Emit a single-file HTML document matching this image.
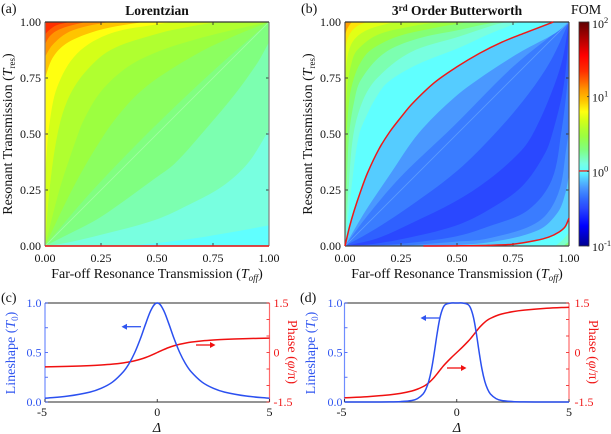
<!DOCTYPE html>
<html lang="en">
<head>
<meta charset="utf-8">
<title>Lorentzian and Butterworth FOM maps</title>
<style>
html,body{margin:0;padding:0;background:#fff;width:611px;height:434px;overflow:hidden}
svg{display:block}
text{font-family:"Liberation Serif",serif;fill:#111}
.tick{font-size:12px}
.lab{font-size:14px}
.blue{fill:#2f55f0}
.red{fill:#f01818}
</style>
</head>
<body>
<svg id="fig" width="611" height="434" viewBox="0 0 611 434" xmlns="http://www.w3.org/2000/svg">
<defs>
<clipPath id="clip-a"><rect x="45" y="22" width="224" height="224"/></clipPath>
<clipPath id="clip-b"><rect x="345" y="22" width="224" height="224"/></clipPath>
<linearGradient id="cbar-grad" x1="0" y1="1" x2="0" y2="0"></linearGradient>
</defs>
<g id="layer-a" clip-path="url(#clip-a)"></g>
<g id="layer-b" clip-path="url(#clip-b)"></g>
<g id="axes"></g>
<g id="lines"></g>

<text x="1" y="13" class="lab">(a)</text>
<text x="301" y="13" class="lab">(b)</text>
<text x="1" y="302" class="lab">(c)</text>
<text x="300" y="302" class="lab">(d)</text>

<text x="157" y="15" text-anchor="middle" font-size="13.5" font-weight="bold">Lorentzian</text>
<text x="457" y="15" text-anchor="middle" font-size="13.5" font-weight="bold">3<tspan dy="-4" font-size="9">rd</tspan><tspan dy="4"> Order Butterworth</tspan></text>
<text x="586" y="14" text-anchor="middle" class="lab">FOM</text>

<text x="157" y="278" text-anchor="middle" class="lab">Far-off Resonance Transmission (<tspan font-style="italic">T</tspan><tspan font-size="9" dy="3" font-style="italic">off</tspan><tspan dy="-3">)</tspan></text>
<text x="457" y="278" text-anchor="middle" class="lab">Far-off Resonance Transmission (<tspan font-style="italic">T</tspan><tspan font-size="9" dy="3" font-style="italic">off</tspan><tspan dy="-3">)</tspan></text>
<text transform="translate(12,134) rotate(-90)" text-anchor="middle" class="lab">Resonant Transmission (<tspan font-style="italic">T</tspan><tspan font-size="9" dy="3">res</tspan><tspan dy="-3">)</tspan></text>
<text transform="translate(312,134) rotate(-90)" text-anchor="middle" class="lab">Resonant Transmission (<tspan font-style="italic">T</tspan><tspan font-size="9" dy="3">res</tspan><tspan dy="-3">)</tspan></text>

<text transform="translate(15,353) rotate(-90)" text-anchor="middle" class="lab blue">Lineshape (<tspan font-style="italic">T</tspan><tspan font-size="9" dy="3">0</tspan><tspan dy="-3">)</tspan></text>
<text transform="translate(315,353) rotate(-90)" text-anchor="middle" class="lab blue">Lineshape (<tspan font-style="italic">T</tspan><tspan font-size="9" dy="3">0</tspan><tspan dy="-3">)</tspan></text>
<text transform="translate(288,352) rotate(90)" text-anchor="middle" class="lab red">Phase (<tspan font-style="italic">φ</tspan>/π)</text>
<text transform="translate(589,352) rotate(90)" text-anchor="middle" class="lab red">Phase (<tspan font-style="italic">φ</tspan>/π)</text>

<text x="157" y="432" text-anchor="middle" class="lab" font-style="italic">Δ</text>
<text x="457" y="432" text-anchor="middle" class="lab" font-style="italic">Δ</text>

<g stroke="#2f55f0" fill="#2f55f0">
<line x1="141" y1="326.7" x2="125" y2="326.7" stroke-width="1.3"/><polygon points="121.5,326.7 127,323.7 127,329.7" stroke="none"/>
</g>
<g stroke="#f01010" fill="#f01010">
<line x1="196" y1="345" x2="212" y2="345" stroke-width="1.3"/><polygon points="215.5,345 210,342 210,348" stroke="none"/>
</g>
<g stroke="#2f55f0" fill="#2f55f0">
<line x1="440" y1="318" x2="424" y2="318" stroke-width="1.3"/><polygon points="420.5,318 426,315 426,321" stroke="none"/>
</g>
<g stroke="#f01010" fill="#f01010">
<line x1="447" y1="368" x2="463" y2="368" stroke-width="1.3"/><polygon points="466.5,368 461,365 461,371" stroke="none"/>
</g>
</svg>

<script>
// ---------- Chart data ----------
// Contour boundaries: [T_off, T_res] pairs.
const colormapLogFom = [-1, -0.73, -0.49, -0.40, -0.31, -0.22, -0.10, 0.005, 0.11, 0.20, 0.29, 0.38, 0.47, 0.56, 0.68, 0.80, 0.95, 1.10, 1.22, 1.34, 1.55, 2];
const colormapColors = ['#000090', '#0000ff', '#2a48ff', '#2f60ff', '#3a7cff', '#4a98ff', '#55ccff', '#60ffff', '#78ffe0', '#7cffb0', '#80ff80', '#8cff60', '#9cff40', '#b0ff30', '#d4ff18', '#ffff10', '#ffc400', '#ff9400', '#ff6000', '#ff3000', '#ff0000', '#600000'];

const aBaseLogFom = 0.29;
const aUpperLogFom = [0.38, 0.47, 0.56, 0.68, 0.80, 0.95, 1.10, 1.22, 1.34];
const aUpperCurves = [
  [[0,0],[.2,.235],[.45,.495],[.7,.735],[.85,.87],[1,1]],
  [[0,0],[.1,.21],[.18,.36],[.263,.495],[.32,.575],[.41,.675],[.51,.755],[.7,.87],[.85,.94],[1,1]],
  [[0,0],[.03,.12],[.07,.27],[.137,.47],[.174,.565],[.25,.69],[.37,.80],[.51,.87],[.7,.93],[.84,.965],[1,1]],
  [[0,0],[.02,.25],[.055,.495],[.1,.65],[.174,.77],[.293,.875],[.51,.95],[.65,.98],[.77,1]],
  [[0,.30],[.008,.42],[.018,.533],[.055,.711],[.144,.86],[.293,.949],[.51,.991],[.58,1]],
  [[0,.75],[.033,.838],[.085,.897],[.174,.942],[.293,.976],[.44,1]],
  [[0,.845],[.033,.897],[.10,.952],[.19,.982],[.29,1]],
  [[0,.90],[.02,.935],[.05,.96],[.1,.98],[.18,1]],
  [[0,.945],[.02,.965],[.05,.985],[.11,1]]
];
const aLowerLogFom = [0.20, 0.11, 0.005];
const aLowerCurves = [
  [[0,0],[.1,.05],[.25,.13],[.491,.302],[.58,.369],[.714,.518],[.85,.68],[.95,.82],[1,.91]],
  [[0,0],[.1,.015],[.25,.05],[.491,.116],[.64,.183],[.79,.265],[.906,.37],[1,.518]],
  [[.35,0],[.491,.012],[.64,.03],[.79,.054],[1,.092]]
];
const aRedContour = [[0,0],[.5,0],[1,0]];

const bBaseLogFom = -0.31;
const bLowerLogFom = [-0.40, -0.49, -0.40, -0.31, -0.22, -0.10, 0.005, 0.15, 0.29];
const bRedLower = [[.35,0],[.5,.0008],[.64,.003],[.75,.008],[.848,.024],[.91,.04],[.955,.062],[.982,.085],[1,.124]];
const bLowerCurves = [
  [[0,0],[.1,.055],[.25,.15],[.5,.335],[.684,.518],[.82,.68],[.92,.83],[1,1]],
  [[0,0],[.144,.034],[.293,.10],[.491,.198],[.64,.295],[.789,.428],[.848,.518],[.92,.68],[.97,.83],[1,1]],
  [[0,0],[.1,.006],[.25,.03],[.491,.09],[.64,.161],[.789,.265],[.893,.414],[.93,.518],[.97,.68],[.99,.83],[1,1]],
  [[.1,0],[.25,.01],[.491,.042],[.64,.087],[.818,.161],[.923,.295],[.967,.518],[.99,.7],[1,.83]],
  [[.25,0],[.491,.019],[.64,.034],[.863,.109],[.952,.235],[.989,.443],[1,.52]],
  [[.4,0],[.64,.016],[.863,.071],[.95,.15],[.985,.24],[1,.32]],
  bRedLower,
  [[.938,0],[.97,.025],[1,.06]],
  [[.975,0],[1,.02]]
];
const bUpperLogFom = [-0.22, -0.10, 0.005, 0.11, 0.20, 0.32, 0.47, 0.60, 0.72, 0.87, 1.06];
const bRedUpper = [[0,0],[.02,.085],[.04,.155],[.07,.245],[.1,.325],[.15,.43],[.2,.51],[.25,.575],[.3,.635],[.4,.73],[.5,.80],[.6,.86],[.7,.91],[.8,.95],[.93,1]];
const bUpperCurves = [
  [[0,0],[.1,.135],[.25,.31],[.49,.54],[.75,.8],[1,1]],
  [[0,0],[.085,.146],[.204,.324],[.33,.505],[.491,.665],[.64,.775],[.79,.87],[.938,.95],[1,1]],
  bRedUpper,
  [[0,0],[.03,.27],[.0625,.495],[.1,.59],[.14,.665],[.19,.73],[.323,.81],[.51,.885],[.64,.945],[.78,1]],
  [[0,0],[.015,.24],[.037,.495],[.08,.65],[.144,.75],[.293,.865],[.51,.935],[.66,.985],[.72,1]],
  [[0,0],[.006,.22],[.018,.495],[.04,.64],[.07,.74],[.174,.86],[.323,.925],[.51,.965],[.6,.985],[.68,1]],
  [[0,.2],[.0075,.495],[.02,.66],[.04,.75],[.07,.82],[.115,.875],[.234,.935],[.412,.976],[.55,1]],
  [[0,.45],[.01,.71],[.03,.82],[.055,.875],[.144,.942],[.293,.98],[.42,1]],
  [[0,.72],[.012,.85],[.04,.92],[.1,.965],[.2,.995],[.23,1]],
  [[0,.87],[.01,.92],[.03,.96],[.06,.985],[.1,1]],
  [[0,.94],[.01,.97],[.03,1]]
];

const mapTickValues = [0, 0.25, 0.5, 0.75, 1];
const mapTickLabels = ['0.00', '0.25', '0.50', '0.75', '1.00'];

const cDetuning = [-5,-4,-3,-2.5,-2,-1.5,-1.25,-1,-.75,-.5,-.25,0,.25,.5,.75,1,1.25,1.5,2,2.5,3,4,5];
const cLineshape = [.038,.059,.1,.138,.2,.308,.39,.5,.64,.8,.941,1,.941,.8,.64,.5,.39,.308,.2,.138,.1,.059,.038];
const cPhase = [-.437,-.42,-.398,-.379,-.352,-.313,-.285,-.25,-.205,-.148,-.078,0,.078,.148,.205,.25,.285,.313,.352,.379,.398,.42,.437];

const dDetuning = [-5,-4,-3,-2.5,-2,-1.75,-1.5,-1.375,-1.25,-1.125,-1,-.875,-.75,-.625,-.5,-.25,0,.25,.5,.625,.75,.875,1,1.125,1.25,1.375,1.5,1.75,2,2.5,3,4,5];
const dLineshape = [0,0,.001,.004,.015,.034,.081,.129,.208,.33,.5,.69,.849,.944,.985,1,1,1,.985,.944,.849,.69,.5,.33,.208,.129,.081,.034,.015,.004,.001,0,0];
const dPhase = [-1.373,-1.34,-1.283,-1.238,-1.166,-1.11,-1.034,-.985,-.92,-.84,-.75,-.645,-.537,-.43,-.335,-.161,0,.161,.335,.43,.537,.645,.75,.84,.92,.985,1.034,1.11,1.166,1.238,1.283,1.34,1.373];

const detuningTicks = [-5, 0, 5];
const lineshapeTicks = [0, 0.25, 0.5, 0.75, 1];
const lineshapeLabels = ['0.0', '', '0.5', '', '1.0'];
const phaseTicks = [-1.5, -1, -0.5, 0, 0.5, 1, 1.5];
const phaseLabels = ['-1.5', '', '', '0', '', '', '1.5'];
const colorbarTicks = [-1, 0, 1, 2];

// ---------- Drawing helpers ----------
const NS = 'http://www.w3.org/2000/svg';
function mk(parent, tag, attrs) {
  const el = document.createElementNS(NS, tag);
  for (const k in attrs) el.setAttribute(k, attrs[k]);
  parent.appendChild(el);
  return el;
}
function hex(c) { return [1, 3, 5].map(i => parseInt(c.slice(i, i + 2), 16)); }
function fomColor(v) {
  const s = colormapLogFom;
  let i = 0;
  while (i < s.length - 2 && v > s[i + 1]) i++;
  const t = Math.max(0, Math.min(1, (v - s[i]) / (s[i + 1] - s[i])));
  const a = hex(colormapColors[i]), b = hex(colormapColors[i + 1]);
  return 'rgb(' + a.map((q, j) => Math.round(q + (b[j] - q) * t)).join(',') + ')';
}
function scale(d0, d1, r0, r1) { return v => r0 + (v - d0) / (d1 - d0) * (r1 - r0); }
function smooth(pts, sx, sy) {
  const p = pts.map(q => [sx(q[0]), sy(q[1])]);
  function tangent(i) {
    const a = p[Math.max(i - 1, 0)], c = p[Math.min(i + 1, p.length - 1)];
    const dx = c[0] - a[0], dy = c[1] - a[1], n = Math.hypot(dx, dy) || 1;
    return [dx / n, dy / n];
  }
  let d = 'M' + p[0][0].toFixed(2) + ' ' + p[0][1].toFixed(2);
  for (let i = 0; i < p.length - 1; i++) {
    const b = p[i], c = p[i + 1], t0 = tangent(i), t1 = tangent(i + 1);
    const len = Math.hypot(c[0] - b[0], c[1] - b[1]) / 3;
    d += 'C' + (b[0] + t0[0] * len).toFixed(2) + ' ' + (b[1] + t0[1] * len).toFixed(2) + ' ' +
         (c[0] - t1[0] * len).toFixed(2) + ' ' + (c[1] - t1[1] * len).toFixed(2) + ' ' +
         c[0].toFixed(2) + ' ' + c[1].toFixed(2);
  }
  return d;
}
function drawMap(layer, x0, base, lower, lowerVals, upper, upperVals, diagColor) {
  const sx = scale(0, 1, x0, x0 + 224), sy = scale(0, 1, 246, 22);
  const bg = mk(layer, 'rect', { x: x0, y: 22, width: 224, height: 224, fill: fomColor(base) });
  
  
  lower.forEach((c, i) => {
    const el = mk(layer, 'path', { d: smooth(c, sx, sy) + 'L' + sx(1) + ' ' + sy(0) + 'Z', fill: fomColor(lowerVals[i]) });
    
    
  });
  upper.forEach((c, i) => {
    const el = mk(layer, 'path', { d: smooth(c, sx, sy) + 'L' + sx(0) + ' ' + sy(1) + 'Z', fill: fomColor(upperVals[i]) });
    
    
  });
  const dg = mk(layer, 'line', { x1: sx(0), y1: sy(0), x2: sx(1), y2: sy(1), stroke: diagColor, 'stroke-width': 0.9 });
  
  
}
function drawFrame(g, x0, left, right, top, bottom) {
  const sx = scale(0, 1, x0, x0 + 224), sy = scale(0, 1, 246, 22);
  mapTickValues.forEach((v, i) => {
    const tks = [[sx(v), 246, sx(v), 243], [sx(v), 22, sx(v), 25], [x0, sy(v), x0 + 3, sy(v)], [x0 + 224, sy(v), x0 + 221, sy(v)]];
    tks.forEach(t => {
      const el = mk(g, 'line', { x1: t[0], y1: t[1], x2: t[2], y2: t[3], stroke: '#333', 'stroke-width': 0.9 });
      
      
    });
    const xl = mk(g, 'text', { x: sx(v), y: 262, 'text-anchor': 'middle', class: 'tick' });
    xl.textContent = mapTickLabels[i];
    
    
    const yl = mk(g, 'text', { x: x0 - 4, y: sy(v) + 4, 'text-anchor': 'end', class: 'tick' });
    yl.textContent = mapTickLabels[i];
    
    
  });
  const edges = [[x0, 22, x0, 246, left], [x0 + 224, 22, x0 + 224, 246, right], [x0, 22, x0 + 224, 22, top], [x0, 246, x0 + 224, 246, bottom]];
  edges.forEach(e => {
    const el = mk(g, 'line', { x1: e[0], y1: e[1], x2: e[2], y2: e[3], stroke: e[4], 'stroke-width': 1.2 });
    
    
  });
}
function drawRed(parent, pts, x0) {
  const sx = scale(0, 1, x0, x0 + 224), sy = scale(0, 1, 246, 22);
  const el = mk(parent, 'path', { d: smooth(pts, sx, sy), fill: 'none', stroke: '#f01818', 'stroke-width': 1.5 });
  
  
}
function drawLinePanel(g, lg, x0, labelEnd, rightLabelX, detuning, lineshape, phase) {
  const x1 = x0 + 224.5, yT = 303, yB = 402;
  const sx = scale(-5, 5, x0, x1), sL = scale(0, 1, yB, yT), sP = scale(-1.5, 1.5, yB, yT);
  const edges = [[x0, yT, x0, yB, '#6f8cff'], [x1, yT, x1, yB, '#ff6a6a'], [x0, yT, x1, yT, '#555'], [x0, yB, x1, yB, '#555']];
  edges.forEach(e => {
    const el = mk(g, 'line', { x1: e[0], y1: e[1], x2: e[2], y2: e[3], stroke: e[4], 'stroke-width': 1.2 });
    
    
  });
  detuningTicks.forEach(v => {
    const t = mk(g, 'line', { x1: sx(v), y1: yB, x2: sx(v), y2: yB - 3, stroke: '#333', 'stroke-width': 0.9 });
    
    
    const l = mk(g, 'text', { x: sx(v) - (v < 0 ? 3 : 0), y: 416, 'text-anchor': 'middle', class: 'tick' });
    l.textContent = String(v);
    
    
  });
  lineshapeTicks.forEach((v, i) => {
    const t = mk(g, 'line', { x1: x0, y1: sL(v), x2: x0 + 3, y2: sL(v), stroke: '#4a68f5', 'stroke-width': 0.9 });
    
    
    if (lineshapeLabels[i]) {
      const l = mk(g, 'text', { x: labelEnd, y: sL(v) + 4, 'text-anchor': 'end', class: 'tick blue' });
      l.textContent = lineshapeLabels[i];
      
      
    }
  });
  phaseTicks.forEach((v, i) => {
    const t = mk(g, 'line', { x1: x1, y1: sP(v), x2: x1 - 3, y2: sP(v), stroke: '#f03030', 'stroke-width': 0.9 });
    
    
    if (phaseLabels[i]) {
      const l = mk(g, 'text', { x: rightLabelX, y: sP(v) + 4, class: 'tick red' });
      l.textContent = phaseLabels[i];
      
      
    }
  });
  const lp = detuning.map((d, i) => [d, phase[i]]);
  const rp = mk(lg, 'path', { d: smooth(lp, sx, sP), fill: 'none', stroke: '#f01010', 'stroke-width': 1.5 });
  
  
  const ls = detuning.map((d, i) => [d, lineshape[i]]);
  const bl = mk(lg, 'path', { d: smooth(ls, sx, sL), fill: 'none', stroke: '#2b50f0', 'stroke-width': 1.5 });
  
  
}

// ---------- Render ----------
const layerA = document.getElementById('layer-a');
const layerB = document.getElementById('layer-b');
const axes = document.getElementById('axes');
const lines = document.getElementById('lines');

drawMap(layerA, 45, aBaseLogFom, aLowerCurves, aLowerLogFom, aUpperCurves, aUpperLogFom, '#a0ffa0');
drawMap(layerB, 345, bBaseLogFom, bLowerCurves, bLowerLogFom, bUpperCurves, bUpperLogFom, '#5c9cff');

drawFrame(axes, 45, '#808080', '#808080', '#333', '#555');
drawFrame(axes, 345, '#555', '#555', '#333', '#444');

drawRed(lines, aRedContour, 45);
drawRed(lines, bRedUpper, 345);
drawRed(lines, bRedLower, 345);

// Colorbar built from the colormap arrays
const grad = document.getElementById('cbar-grad');
colormapLogFom.forEach((v, i) => {
  mk(grad, 'stop', { offset: ((v + 1) / 3).toFixed(4), 'stop-color': colormapColors[i] });
});
const cbX = 579, cbW = 10, cbTop = 22, cbBot = 246;
const cbScale = scale(-1, 2, cbBot, cbTop);
const cb = mk(axes, 'rect', { x: cbX, y: cbTop, width: cbW, height: cbBot - cbTop, fill: 'url(#cbar-grad)', stroke: '#333', 'stroke-width': 0.8 });


const cbLine = mk(axes, 'line', { x1: cbX, x2: cbX + cbW, y1: cbScale(0.005), y2: cbScale(0.005), stroke: '#f01818', 'stroke-width': 1.3 });


colorbarTicks.forEach(v => {
  const t = mk(axes, 'line', { x1: cbX + cbW, x2: cbX + cbW - 2, y1: cbScale(v), y2: cbScale(v), stroke: '#333', 'stroke-width': 0.8 });
  
  
  const yPos = v === 2 ? 28 : v === -1 ? 251 : cbScale(v) + 5;
  const l = mk(axes, 'text', { x: 592, y: yPos, class: 'tick' });
  
  
  l.textContent = '10';
  const s = mk(l, 'tspan', { dy: -5, 'font-size': 8.5 });
  s.textContent = String(v);
});

drawLinePanel(axes, lines, 45, 41.5, 273.5, cDetuning, cLineshape, cPhase);
drawLinePanel(axes, lines, 344.5, 342.5, 574.5, dDetuning, dLineshape, dPhase);
</script>
</body>
</html>
